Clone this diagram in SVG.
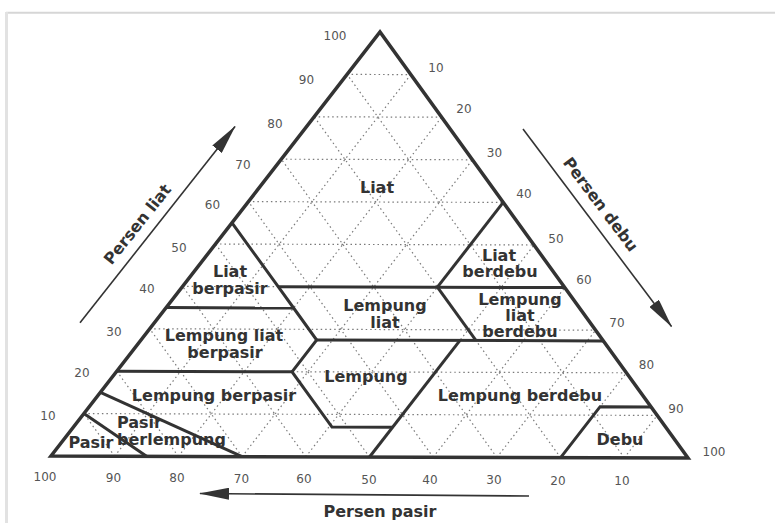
<svg xmlns="http://www.w3.org/2000/svg" width="775" height="523" viewBox="0 0 775 523">
<defs>
<style>
.grid{stroke:#7a7a7a;stroke-width:1.2;stroke-dasharray:1.5 3;fill:none}
.edge{stroke:#333;stroke-width:3.5;fill:none;stroke-linejoin:miter}
.bnd{stroke:#333;stroke-width:3;fill:none;stroke-linejoin:miter}
.lbl{font-family:"DejaVu Sans","Liberation Sans",sans-serif;font-weight:bold;font-size:16px;fill:#333;text-anchor:middle}
.num{font-family:"DejaVu Sans","Liberation Sans",sans-serif;font-size:12px;fill:#555;text-anchor:middle}
.axis{font-family:"DejaVu Sans","Liberation Sans",sans-serif;font-weight:bold;font-size:16px;fill:#333;text-anchor:middle}
.arr{stroke:#333;stroke-width:1.6;fill:none}
</style>
<marker id="ah" viewBox="0 0 30 12" refX="29" refY="6" markerWidth="30" markerHeight="12" markerUnits="userSpaceOnUse" orient="auto">
<path d="M0,0 L30,6 L0,12 z" fill="#333"/>
</marker>
</defs>
<rect width="775" height="523" fill="#fff"/>
<g id="frame">
<line x1="6" y1="12.8" x2="775" y2="12.8" stroke="#d6d6d6" stroke-width="2"/>
<line x1="6.5" y1="12" x2="6.5" y2="523" stroke="#e2e2e2" stroke-width="3"/>
</g>
<g id="grid" class="grid">
<path d="M83.9,413.6 L657.2,415.4 M116.8,371.2 L626.4,372.8 M149.7,328.8 L595.6,330.2 M182.6,286.4 L564.8,287.6 M215.5,244 L534,245 M248.4,201.6 L503.2,202.4 M281.3,159.2 L472.4,159.8 M314.2,116.8 L441.6,117.2 M347.1,74.4 L410.8,74.6"/>
<path d="M114.7,456.2 L410.8,74.6 M178.4,456.4 L441.6,117.2 M242.1,456.6 L472.4,159.8 M305.8,456.8 L503.2,202.4 M369.5,457 L534,245 M433.2,457.2 L564.8,287.6 M496.9,457.4 L595.6,330.2 M560.6,457.6 L626.4,372.8 M624.3,457.8 L657.2,415.4"/>
<path d="M624.3,457.8 L347.1,74.4 M560.6,457.6 L314.2,116.8 M496.9,457.4 L281.3,159.2 M433.2,457.2 L248.4,201.6 M369.5,457 L215.5,244 M305.8,456.8 L182.6,286.4 M242.1,456.6 L149.7,328.8 M178.4,456.4 L116.8,371.2 M114.7,456.2 L83.9,413.6"/>
</g>
<g id="boundaries">
<path class="bnd" d="M146.6,456.3 L83.9,413.6"/>
<path class="bnd" d="M242.1,456.6 L100.4,392.4"/>
<path class="bnd" d="M116.8,371.2 L292,371.8 L332,427.1 L392.5,427.3"/>
<path class="bnd" d="M369.5,457 L460,340.4"/>
<path class="bnd" d="M292,371.8 L316.7,340 L293.6,308 L278.2,286.7 L232,222.8"/>
<path class="bnd" d="M166.2,307.6 L293.6,308"/>
<path class="bnd" d="M278.2,286.7 L564.8,287.6"/>
<path class="bnd" d="M316.7,340 L603.3,340.9"/>
<path class="bnd" d="M437.4,287.2 L475.9,340.4"/>
<path class="bnd" d="M437.4,287.2 L503.2,202.4"/>
<path class="bnd" d="M651.1,406.9 L600.1,406.7 L560.6,457.6"/>
<path class="edge" d="M51,456 L688,458 L380,32 Z"/>
</g>
<g id="liat"><text class="lbl" x="377" y="193">Liat</text></g>
<g id="liat-berpasir"><text class="lbl" x="230" y="277">Liat</text><text class="lbl" x="230" y="294">berpasir</text></g>
<g id="lempung-liat-berpasir"><text class="lbl" x="224" y="341">Lempung liat</text><text class="lbl" x="225" y="358">berpasir</text></g>
<g id="lempung-berpasir"><text class="lbl" x="214" y="401">Lempung berpasir</text></g>
<g id="pasir-berlempung"><text class="lbl" x="117" y="428" style="text-anchor:start">Pasir</text><text class="lbl" x="117" y="445" style="text-anchor:start">berlempung</text></g>
<g id="pasir"><text class="lbl" x="91" y="448">Pasir</text></g>
<g id="lempung-liat"><text class="lbl" x="385" y="311">Lempung</text><text class="lbl" x="385" y="328">liat</text></g>
<g id="lempung"><text class="lbl" x="366" y="382">Lempung</text></g>
<g id="lempung-berdebu"><text class="lbl" x="520" y="401">Lempung berdebu</text></g>
<g id="liat-berdebu"><text class="lbl" x="499" y="261">Liat</text><text class="lbl" x="500" y="277">berdebu</text></g>
<g id="lempung-liat-berdebu"><text class="lbl" x="520" y="305">Lempung</text><text class="lbl" x="520" y="321">liat</text><text class="lbl" x="520" y="337">berdebu</text></g>
<g id="debu"><text class="lbl" x="620" y="445">Debu</text></g>
<g id="ticks-liat">
<text class="num" x="335" y="40">100</text>
<text class="num" x="306.5" y="84">90</text>
<text class="num" x="275" y="127.5">80</text>
<text class="num" x="243" y="168.5">70</text>
<text class="num" x="212.5" y="209">60</text>
<text class="num" x="179" y="252">50</text>
<text class="num" x="147" y="293">40</text>
<text class="num" x="114" y="336">30</text>
<text class="num" x="82" y="377">20</text>
<text class="num" x="48" y="420">10</text>
</g>
<g id="ticks-debu">
<text class="num" x="436" y="72">10</text>
<text class="num" x="464" y="112.5">20</text>
<text class="num" x="494.5" y="157">30</text>
<text class="num" x="524" y="198">40</text>
<text class="num" x="556" y="242.5">50</text>
<text class="num" x="584" y="284">60</text>
<text class="num" x="617" y="327">70</text>
<text class="num" x="646.5" y="369">80</text>
<text class="num" x="676" y="413">90</text>
<text class="num" x="714" y="456">100</text>
</g>
<g id="ticks-pasir">
<text class="num" x="45" y="481">100</text>
<text class="num" x="113.5" y="482">90</text>
<text class="num" x="177" y="482">80</text>
<text class="num" x="241.5" y="483">70</text>
<text class="num" x="304" y="483">60</text>
<text class="num" x="369" y="484">50</text>
<text class="num" x="430" y="484">40</text>
<text class="num" x="494" y="484">30</text>
<text class="num" x="558" y="485">20</text>
<text class="num" x="622" y="485">10</text>
</g>
<g id="connectors">
<line class="arr" x1="80" y1="322.7" x2="235" y2="126.5" marker-end="url(#ah)"/>
<line class="arr" x1="523" y1="129" x2="671.5" y2="326.5" marker-end="url(#ah)"/>
<line class="arr" x1="529" y1="496" x2="200" y2="493.5" marker-end="url(#ah)"/>
</g>
<g id="axis-labels">
<text class="axis" transform="translate(137,224) rotate(-51.5)" x="0" y="6">Persen liat</text>
<text class="axis" transform="translate(601,204) rotate(53.1)" x="0" y="6">Persen debu</text>
<text class="axis" x="380" y="517">Persen pasir</text>
</g>
</svg>
